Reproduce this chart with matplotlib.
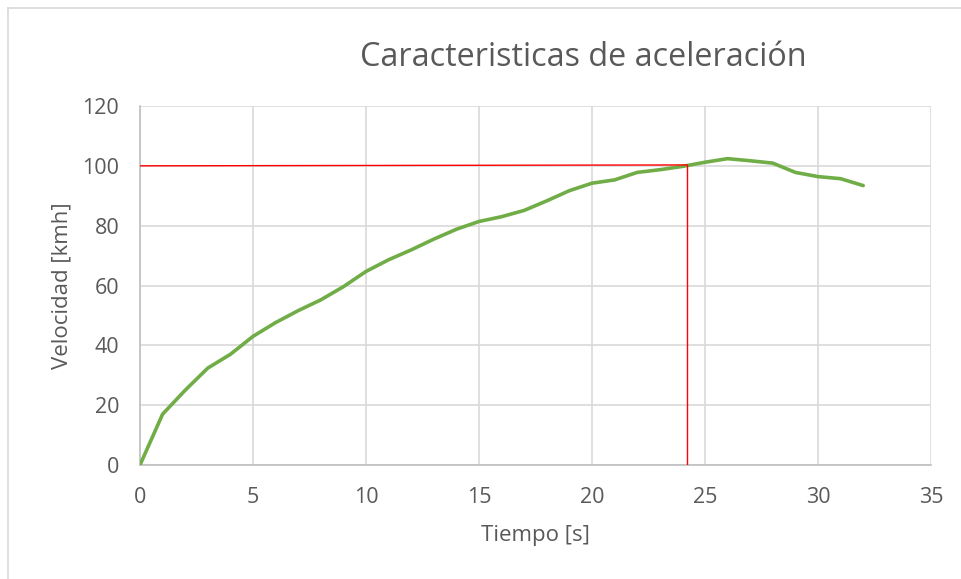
"""Curva de aceleración (estilo Excel)."""
import matplotlib
matplotlib.use("Agg")
import matplotlib.pyplot as plt
from matplotlib.lines import Line2D

tiempo = list(range(0, 33))
velocidad = [0, 17.0, 25.0, 32.4, 37.0, 43.0, 47.6, 51.6, 55.2, 59.6,
             64.7, 68.6, 71.9, 75.5, 78.8, 81.4, 83.0, 85.1, 88.3, 91.7,
             94.2, 95.3, 97.8, 98.7, 99.8, 101.2, 102.4, 101.7, 100.9,
             97.8, 96.4, 95.7, 93.4]

# lineas de referencia (0-100 km/h)
t_100 = 24.2
ref_h_x = [0, t_100]
ref_h_y = [100, 100.3]
ref_v_x = [t_100, t_100]
ref_v_y = [0, 100.3]

GRIS_TXT = "#595959"
plt.rcParams["font.family"] = ["Open Sans", "DejaVu Sans"]

W, H = 961, 579
fig = plt.figure(figsize=(W / 100, H / 100), dpi=100)
ax = fig.add_axes([140 / W, (H - 465) / H, 791 / W, 359 / H])

ax.plot(tiempo, velocidad, color="#70AD47", linewidth=2.6,
        solid_joinstyle="round", solid_capstyle="round", zorder=3)
ax.plot(ref_h_x, ref_h_y, color="#FF0000", linewidth=1.0, zorder=4)
ax.plot(ref_v_x, ref_v_y, color="#FF0000", linewidth=1.0, zorder=4)

ax.set_xlim(0, 35)
ax.set_ylim(0, 120)
ax.set_xticks(range(0, 36, 5))
ax.set_yticks(range(0, 121, 20))
ax.grid(True, color="#D9D9D9", linewidth=1.2)
ax.set_axisbelow(True)
for s in ["top", "right"]:
    ax.spines[s].set_visible(False)
for s in ["bottom", "left"]:
    ax.spines[s].set_color("#BFBFBF")
    ax.spines[s].set_linewidth(1.2)
ax.tick_params(length=0, labelsize=15.5, labelcolor=GRIS_TXT)
ax.tick_params(axis="y", pad=15)
ax.tick_params(axis="x", pad=16)

ax.set_xlabel("Tiempo [s]", fontsize=16, color=GRIS_TXT, labelpad=12)
ax.set_ylabel("Velocidad [kmh]", fontsize=16, color=GRIS_TXT, labelpad=7)

fig.text(583 / W, 1 - 57 / H, "Caracteristicas de aceleración",
         fontsize=23.3, color=GRIS_TXT, ha="center", va="center")

# borde del area del grafico
fig.add_artist(Line2D([8 / W, 8 / W], [0, 1 - 8 / H], color="#D9D9D9",
                      linewidth=1.2, transform=fig.transFigure))
fig.add_artist(Line2D([8 / W, 1], [1 - 8 / H, 1 - 8 / H], color="#D9D9D9",
                      linewidth=1.2, transform=fig.transFigure))

fig.savefig("out.png", dpi=100)
plt.close(fig)
